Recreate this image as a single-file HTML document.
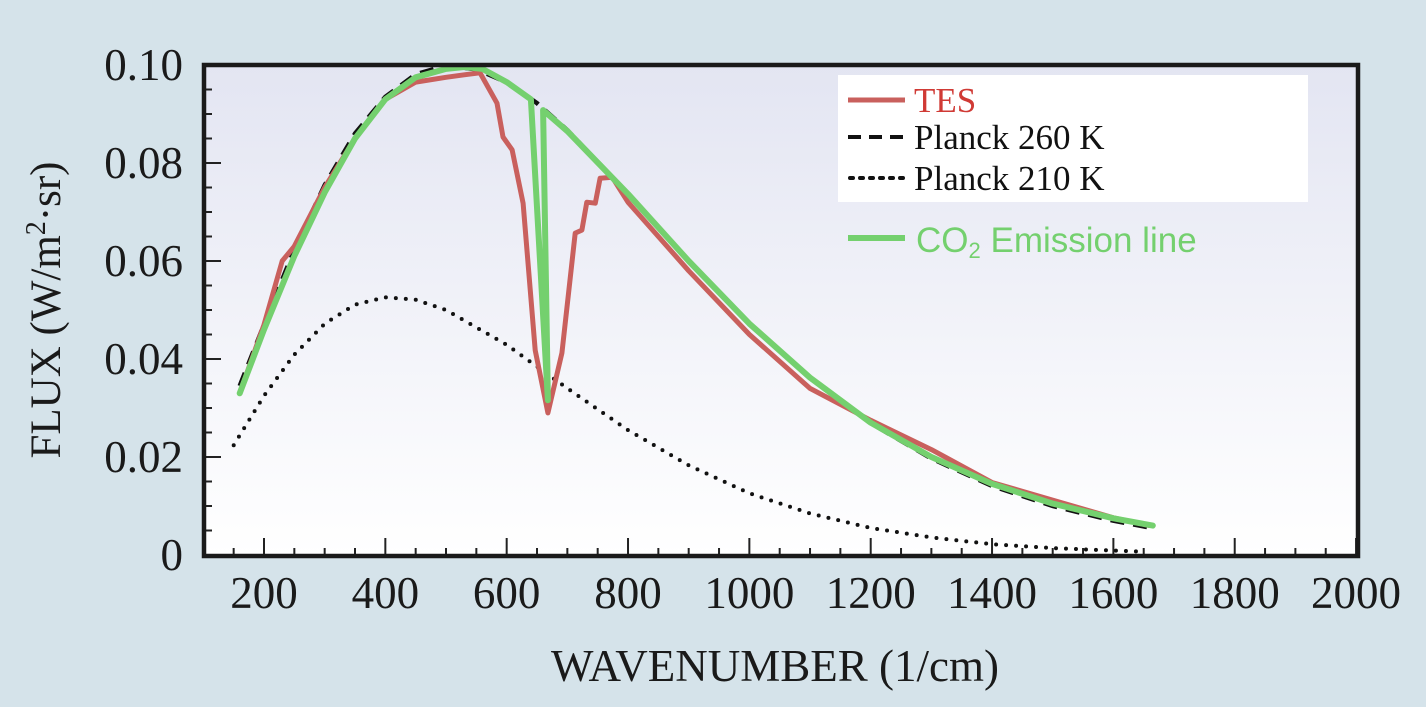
<!DOCTYPE html>
<html><head><meta charset="utf-8"><style>
html,body{margin:0;padding:0;background:#d5e3ea;}
svg{display:block;font-family:"Liberation Serif",serif;}
</style></head><body>
<svg width="1426" height="707" viewBox="0 0 1426 707">
<defs><linearGradient id="bg" x1="0" y1="0" x2="0" y2="1"><stop offset="0" stop-color="#e3e5f2"/><stop offset="1" stop-color="#ffffff"/></linearGradient></defs>
<rect x="0" y="0" width="1426" height="707" fill="#d5e3ea"/>
<rect x="204" y="65" width="1154" height="491" fill="url(#bg)"/>
<g id="ticks"></g>
<g id="series"></g>
<rect x="204" y="65" width="1154" height="491" fill="none" stroke="#1a1a1a" stroke-width="4.5"/>
<g id="labels"></g>
<g>
<rect x="838" y="75" width="470" height="127" fill="#ffffff"/>
<line x1="848" y1="100" x2="905" y2="100" stroke="#c9605d" stroke-width="5"/>
<text x="914" y="112" font-size="35" fill="#d03a35">TES</text>
<line x1="848" y1="137" x2="905" y2="137" stroke="#111" stroke-width="4" stroke-dasharray="13,8"/>
<text x="914" y="149" font-size="35" fill="#111">Planck 260 K</text>
<line x1="850" y1="178" x2="905" y2="178" stroke="#111" stroke-width="4" stroke-dasharray="3,7" stroke-linecap="round"/>
<text x="914" y="190" font-size="35" fill="#111">Planck 210 K</text>
<line x1="848" y1="238" x2="905" y2="238" stroke="#74d06e" stroke-width="6"/>
<text x="916" y="252" font-size="35" fill="#74d06e" font-family="Liberation Sans, sans-serif">CO<tspan font-size="22" dy="6">2</tspan><tspan dy="-6"> Emission line</tspan></text>
</g>
<text x="775" y="681" font-size="45" text-anchor="middle" fill="#1a1a1a">WAVENUMBER (1/cm)</text>
<text transform="translate(60,310) rotate(-90)" font-size="43" text-anchor="middle" fill="#1a1a1a">FLUX (W/m<tspan font-size="28" dy="-15">2</tspan><tspan dy="15">·sr)</tspan></text>
</svg>
<script>
const xTicks=[200,400,600,800,1000,1200,1400,1600,1800,2000];
const yTicks=[0,0.02,0.04,0.06,0.08,0.10];
const yTickLabels=["0","0.02","0.04","0.06","0.08","0.10"];
const planck260X=[160,200,250,300,350,400,450,500,550,600,650,700,800,900,1000,1100,1200,1300,1400,1500,1600,1660];
const planck260Y=[0.0345,0.0470,0.0623,0.0755,0.0860,0.0935,0.0981,0.0999,0.0991,0.0965,0.0922,0.0867,0.0737,0.0600,0.0472,0.0361,0.0269,0.0197,0.0141,0.0100,0.0070,0.0056];
const planck210X=[150,200,250,300,350,400,450,500,600,700,800,900,1000,1100,1200,1300,1400,1500,1600,1650];
const planck210Y=[0.0224,0.0325,0.0409,0.0472,0.0511,0.0526,0.0521,0.0500,0.0429,0.0340,0.0255,0.0183,0.0126,0.0085,0.0055,0.0036,0.0022,0.0014,0.0009,0.0007];
const tesX=[160,200,230,250,300,350,400,450,500,530,556,584,594,609,627,647,668,691,713,724,732,746,754,774,800,900,1000,1100,1200,1300,1400,1500,1600,1660];
const tesY=[0.033,0.047,0.060,0.063,0.075,0.085,0.093,0.0965,0.0975,0.098,0.0984,0.0922,0.0853,0.0827,0.0718,0.0418,0.0290,0.0412,0.0657,0.0663,0.0720,0.0718,0.0769,0.0771,0.072,0.058,0.045,0.034,0.0275,0.0215,0.0148,0.0112,0.0076,0.006];
const co2X=[160,200,250,300,350,400,450,500,530,560,600,640,668,660,700,800,900,1000,1100,1200,1300,1400,1500,1600,1665];
const co2Y=[0.033,0.046,0.061,0.074,0.085,0.093,0.0975,0.0992,0.0996,0.0992,0.0965,0.093,0.0316,0.0908,0.0865,0.0737,0.0600,0.0472,0.0362,0.0270,0.0200,0.0145,0.0105,0.0075,0.0060];
const NS="http://www.w3.org/2000/svg";
const sx=u=>264+(u-200)*0.6067;
const sy=v=>555-v*4900;
const mk=(tag,attrs,parent)=>{const e=document.createElementNS(NS,tag);for(const k in attrs)e.setAttribute(k,attrs[k]);parent.appendChild(e);return e;};
const tk=document.getElementById('ticks'),lb=document.getElementById('labels'),sr=document.getElementById('series');
for(let u=150;u<=2000;u+=50){const major=u%200===0;
 const t=mk('line',{x1:sx(u),x2:sx(u),y1:556,y2:major?538:548,stroke:'#222','stroke-width':2},tk);
 
 }
for(let i=0;i<=20;i++){const v=i*0.005;const major=i%4===0;
 const t=mk('line',{x1:204,x2:major?221:212,y1:sy(v),y2:sy(v),stroke:'#222','stroke-width':2},tk);
 
 }
xTicks.forEach(u=>{const t=mk('text',{x:sx(u),y:608,'font-size':45,'text-anchor':'middle',fill:'#1a1a1a'},lb);t.textContent=u;
 
 });
yTicks.forEach((v,i)=>{const t=mk('text',{x:183,y:sy(v)+15,'font-size':45,'text-anchor':'end',fill:'#1a1a1a'},lb);t.textContent=yTickLabels[i];
 
 });
const pts=(X,Y)=>X.map((x,i)=>sx(x).toFixed(1)+','+sy(Y[i]).toFixed(1)).join(' ');
const p210=mk('polyline',{points:pts(planck210X,planck210Y),fill:'none',stroke:'#111','stroke-width':4,'stroke-dasharray':'0,10','stroke-linecap':'round'},sr);


const p260=mk('polyline',{points:pts(planck260X,planck260Y),fill:'none',stroke:'#111','stroke-width':4.5,'stroke-dasharray':'14,9'},sr);


const tes=mk('polyline',{points:pts(tesX,tesY),fill:'none',stroke:'#c9605d','stroke-width':5,'stroke-linejoin':'round'},sr);


const co2=mk('polyline',{points:pts(co2X,co2Y),fill:'none',stroke:'#74d06e','stroke-width':6,'stroke-linejoin':'round','stroke-linecap':'round'},sr);


</script>
</body></html>
